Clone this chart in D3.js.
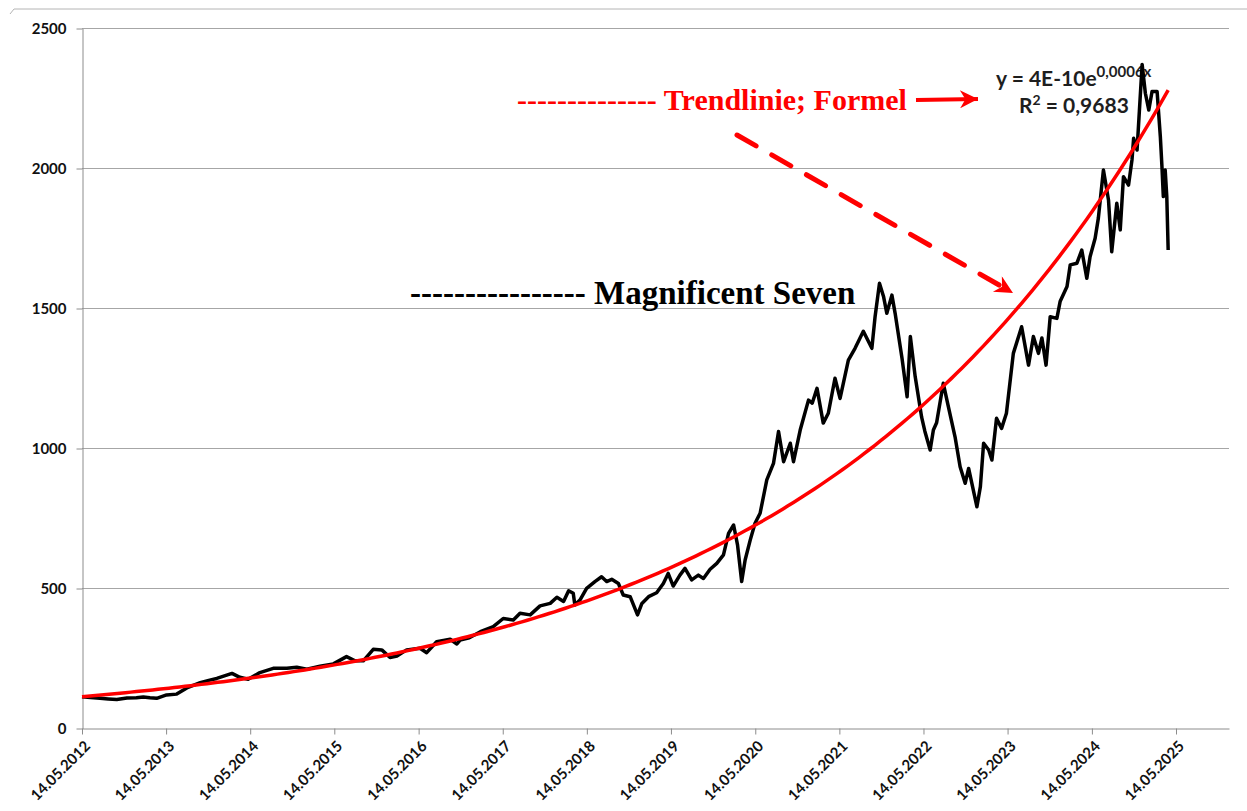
<!DOCTYPE html>
<html>
<head>
<meta charset="utf-8">
<script src="https://cdn.jsdelivr.net/npm/d3@7"></script>
<style>
  body { margin: 0; background: #fff; }
  svg { display: block; }
</style>
</head>
<body>
<svg id="chart" width="1247" height="811"></svg>
<script>
// Magnificent Seven index
var dates = [
  "2012-05-14","2012-06-20","2012-07-31","2012-09-05","2012-10-12","2012-11-25","2013-01-05","2013-02-04",
  "2013-03-05","2013-04-03","2013-05-16","2013-06-29","2013-08-12","2013-10-09","2013-11-15","2013-12-20",
  "2014-02-24","2014-03-30","2014-05-05","2014-06-25","2014-08-22","2014-10-20","2014-12-02","2015-01-15",
  "2015-03-13","2015-05-10","2015-07-06","2015-08-12","2015-09-17","2015-10-30","2015-12-06","2016-01-11",
  "2016-02-10","2016-03-23","2016-05-20","2016-06-18","2016-07-31","2016-09-28","2016-10-27","2016-11-10",
  "2016-12-20","2017-02-06","2017-04-03","2017-05-16","2017-06-29","2017-07-28","2017-09-10","2017-10-23",
  "2017-12-06","2018-01-04","2018-02-02","2018-02-24","2018-03-16","2018-03-23","2018-04-14","2018-05-13",
  "2018-06-18","2018-07-17","2018-08-08","2018-08-30","2018-09-28","2018-10-19","2018-11-18","2018-12-20",
  "2019-01-08","2019-02-06","2019-03-13","2019-04-11","2019-05-02","2019-05-24","2019-06-22","2019-07-14",
  "2019-08-12","2019-09-10","2019-10-02","2019-10-31","2019-11-29","2019-12-28","2020-01-19","2020-02-10",
  "2020-02-27","2020-03-16","2020-03-31","2020-04-22","2020-05-13","2020-06-04","2020-07-03","2020-08-01",
  "2020-08-23","2020-09-14","2020-10-13","2020-10-27","2020-11-25","2020-12-31","2021-01-16","2021-02-06",
  "2021-03-05","2021-03-27","2021-04-25","2021-05-17","2021-06-22","2021-07-21","2021-08-26","2021-10-02",
  "2021-10-16","2021-11-04","2021-11-22","2021-12-06","2021-12-28","2022-01-11","2022-02-10","2022-03-04",
  "2022-03-18","2022-04-08","2022-05-06","2022-05-20","2022-06-12","2022-06-26","2022-07-10","2022-08-08",
  "2022-08-30","2022-09-28","2022-10-20","2022-11-11","2022-11-26","2023-01-01","2023-01-16","2023-01-30",
  "2023-02-21","2023-03-07","2023-03-27","2023-04-18","2023-05-09","2023-06-08","2023-07-14","2023-08-13",
  "2023-09-03","2023-09-25","2023-10-10","2023-10-28","2023-11-15","2023-12-14","2023-12-28","2024-01-27",
  "2024-02-10","2024-03-10","2024-03-31","2024-04-22","2024-05-06","2024-05-28","2024-06-11","2024-07-03",
  "2024-07-25","2024-08-08","2024-08-30","2024-09-14","2024-09-28","2024-10-20","2024-11-04","2024-11-11",
  "2024-11-26","2024-12-18","2025-01-01","2025-01-16","2025-01-30","2025-02-21","2025-03-07","2025-03-14",
  "2025-03-20","2025-03-28","2025-04-04","2025-04-10"
];
var values = [
  112,109,106,104,102,107,108,111,
  108,106,118,121,143,162,170,177,
  195,181,174,198,213,213,217,210,
  221,229,255,240,240,281,279,252,
  257,279,285,269,308,317,300,314,
  322,344,362,391,386,410,404,436,
  445,467,452,490,481,439,457,499,
  523,540,523,531,516,475,469,404,
  445,469,483,516,552,507,546,570,
  529,546,534,567,588,618,695,725,
  654,523,600,671,731,767,886,945,
  1059,951,1017,951,1064,1171,1160,1213,
  1089,1124,1249,1177,1314,1356,1417,1356,
  1469,1588,1540,1481,1546,1481,1320,1183,
  1398,1255,1110,1060,993,1064,1090,1231,
  1148,1040,933,874,927,790,862,1017,
  993,957,1106,1070,1124,1338,1433,1296,
  1398,1338,1393,1296,1469,1463,1523,1577,
  1654,1660,1707,1606,1683,1749,1821,1993,
  1886,1701,1874,1779,1969,1939,2029,2106,
  2064,2370,2267,2207,2273,2273,2112,2005,
  1898,1993,1898,1707
];
var yTicks = [0, 500, 1000, 1500, 2000, 2500];
var xTickLabels = ["14.05.2012","14.05.2013","14.05.2014","14.05.2015","14.05.2016","14.05.2017","14.05.2018",
  "14.05.2019","14.05.2020","14.05.2021","14.05.2022","14.05.2023","14.05.2024","14.05.2025"];
var formulaText = ["y = 4E-10e", "0,0006x", "R", "2", " = 0,9683"];

var parse = d3.timeParse("%Y-%m-%d");
var parseTick = d3.timeParse("%d.%m.%Y");
var series = dates.map(function(d, i) { return { date: parse(d), value: values[i] }; });

var svg = d3.select("#chart");
var x = d3.scaleTime().domain([parse("2012-05-14"), parse("2025-12-30")]).range([82, 1229]);
var y = d3.scaleLinear().domain([0, 2500]).range([728, 28]);

// chart area border (top)
svg.append("path")
  .attr("d", "M10,14 L14,9 L1247,9")
  .attr("fill", "none").attr("stroke", "#b4b4b4").attr("stroke-width", 1);

// gridlines
svg.append("g").selectAll("line")
  .data(yTicks.slice(1))
  .enter().append("line")
  .attr("x1", 82).attr("x2", 1229)
  .attr("y1", function(d) { return y(d) + 0.5; })
  .attr("y2", function(d) { return y(d) + 0.5; })
  .attr("stroke", "#a6a6a6").attr("stroke-width", 1);

// axes
var gy = svg.append("g").attr("transform", "translate(82.5,0.5)")
  .call(d3.axisLeft(y).tickValues(yTicks).tickFormat(d3.format("d"))
    .tickSize(6).tickPadding(10).tickSizeOuter(0));
var gx = svg.append("g").attr("transform", "translate(0,728.5)")
  .call(d3.axisBottom(x).tickValues(xTickLabels.map(parseTick)).tickSize(6).tickSizeOuter(0)
    .tickFormat(function(d, i) { return xTickLabels[i]; }));
[gx, gy].forEach(function(g) {
  g.select(".domain").attr("stroke", "#8c8c8c");
  g.selectAll(".tick line").attr("stroke", "#8c8c8c");
  g.selectAll("text").attr("fill", "#111").style("font-family", "Lato, 'Open Sans', sans-serif")
    .style("font-weight", "bold").style("font-size", "15px");
});
gx.selectAll("text")
  .attr("text-anchor", "end").attr("x", 0).attr("y", 0).attr("dy", "0.35em")
  .attr("transform", "translate(5,15) rotate(-45)");

// trendline label (drawn under the series)
var lbl = svg.append("g").attr("fill", "#1e1e1e")
  .style("font-family", "Lato, 'Open Sans', sans-serif").style("font-weight", "bold");
var t1 = lbl.append("text").attr("x", 996).attr("y", 86).style("font-size", "21px");
t1.append("tspan").text(formulaText[0]);
t1.append("tspan").attr("dy", -9).style("font-size", "15px").text(formulaText[1]);
var t2 = lbl.append("text").attr("x", 1019).attr("y", 113).style("font-size", "21px");
t2.append("tspan").text(formulaText[2]);
t2.append("tspan").attr("dy", -8).style("font-size", "14px").text(formulaText[3]);
t2.append("tspan").attr("dy", 8).text(formulaText[4]);

// series
var line = d3.line().x(function(d) { return x(d.date); }).y(function(d) { return y(d.value); });
svg.append("path").datum(series)
  .attr("d", line)
  .attr("fill", "none").attr("stroke", "#000").attr("stroke-width", 3.5)
  .attr("stroke-linejoin", "round");

// exponential trendline: weighted least squares on ln(value)
var t0 = series[0].date.getTime(), day = 864e5;
var pts = series.map(function(d) { return { t: (d.date.getTime() - t0) / day, ly: Math.log(d.value) }; });
var sw = 0, st = 0, sl = 0, stt = 0, stl = 0;
pts.forEach(function(p, i) {
  var a = i > 0 ? pts[i - 1].t : p.t, b = i < pts.length - 1 ? pts[i + 1].t : p.t;
  var w = (b - a) / 2;
  sw += w; st += w * p.t; sl += w * p.ly; stt += w * p.t * p.t; stl += w * p.t * p.ly;
});
var slope = (sw * stl - st * sl) / (sw * stt - st * st);
var icpt = (sl - slope * st) / sw;
var tEnd = pts[pts.length - 1].t;
var trend = d3.range(0, 201).map(function(k) {
  var t = tEnd * k / 200;
  return { date: new Date(t0 + t * day), value: Math.exp(icpt + slope * t) };
});
svg.append("path").datum(trend)
  .attr("d", line)
  .attr("fill", "none").attr("stroke", "#ff0000").attr("stroke-width", 3.5);

// annotations
var defs = svg.append("defs");
defs.append("marker").attr("id", "head").attr("viewBox", "0 0 10 10")
  .attr("refX", 10).attr("refY", 5).attr("markerUnits", "userSpaceOnUse")
  .attr("markerWidth", 20).attr("markerHeight", 18).attr("orient", "auto")
  .append("path").attr("d", "M0,0 L10,5 L0,10 L3,5 Z").attr("fill", "#ff0000");

svg.append("text").attr("x", 517).attr("y", 110)
  .attr("fill", "#ff0000")
  .style("font-family", "'Liberation Serif', 'Times New Roman', serif")
  .style("font-weight", "bold").style("font-size", "30px")
  .text("-------------- Trendlinie; Formel");
svg.append("text").attr("x", 410).attr("y", 304)
  .attr("fill", "#000")
  .style("font-family", "'Liberation Serif', 'Times New Roman', serif")
  .style("font-weight", "bold").style("font-size", "33px")
  .text("---------------- Magnificent Seven");

svg.append("line").attr("x1", 916).attr("y1", 100).attr("x2", 978).attr("y2", 99)
  .attr("stroke", "#ff0000").attr("stroke-width", 4).attr("marker-end", "url(#head)");
svg.append("line").attr("x1", 737).attr("y1", 135).attr("x2", 1013).attr("y2", 293)
  .attr("stroke", "#ff0000").attr("stroke-width", 5).attr("stroke-linecap", "round")
  .attr("stroke-dasharray", "22,18").attr("marker-end", "url(#head)");
</script>
</body>
</html>
